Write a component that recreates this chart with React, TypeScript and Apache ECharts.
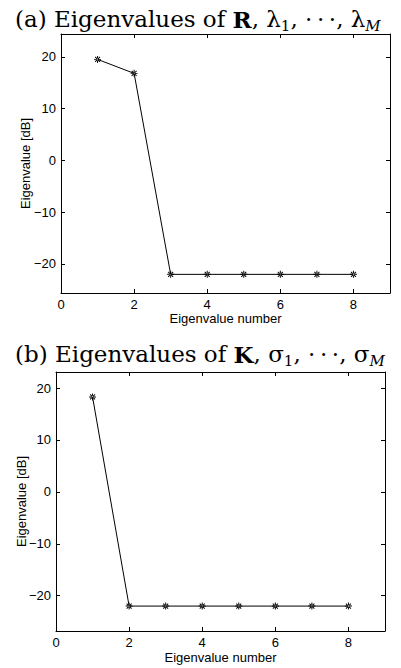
import React, { useEffect, useRef } from "react";
import * as echarts from "echarts";

const xTicks = [0, 2, 4, 6, 8];
const yTicks = [-20, -10, 0, 10, 20];
const eigenIndexR = [1, 2, 3, 4, 5, 6, 7, 8];
const eigenValuesR = [19.5, 16.8, -22, -22, -22, -22, -22, -22];
const eigenIndexK = [1, 2, 3, 4, 5, 6, 7, 8];
const eigenValuesK = [18.3, -22, -22, -22, -22, -22, -22, -22];
const xLabel = "Eigenvalue number";
const yLabel = "Eigenvalue [dB]";

const ASTERISK =
  "path://M-4 -0.55 L4 -0.55 L4 0.55 L-4 0.55 Z M-0.55 -4 L0.55 -4 L0.55 4 L-0.55 4 Z " +
  "M-3.2 -2.45 L2.45 3.2 L3.2 2.45 L-2.45 -3.2 Z M-2.45 3.2 L3.2 -2.45 L2.45 -3.2 L-3.2 2.45 Z";

const SANS = "Liberation Sans, Arial, Helvetica, sans-serif";
const SERIF = "DejaVu Serif, serif";

export default function App() {
  const ref = useRef<HTMLDivElement>(null);
  useEffect(() => {
    if (!ref.current) return;
    const chart = echarts.init(ref.current, undefined, { renderer: "svg" });
    const base = { fontFamily: SERIF, color: "#000", fontWeight: "normal" };
    const titleRich = {
      n: { ...base, fontSize: 23, lineHeight: 28 },
      b: { ...base, fontSize: 23, lineHeight: 28, fontWeight: "bold" },
      s: { ...base, fontSize: 15, lineHeight: 15, verticalAlign: "bottom" },
      si: { ...base, fontSize: 15, lineHeight: 15, verticalAlign: "bottom", fontStyle: "italic" },
    };
    const grids = [
      { left: 61, right: 11, top: 34, height: 259, min: -25.6, max: 24.4 },
      { left: 56, right: 16, top: 372, height: 259, min: -26.8, max: 23.1 },
    ];
    const xAxes: any[] = [];
    const yAxes: any[] = [];
    grids.forEach((g, gi) => {
      const common = {
        gridIndex: gi,
        type: "value",
        axisLine: { show: true, onZero: false, lineStyle: { color: "#000", width: 1 } },
        axisTick: { show: true, inside: true, length: 4, lineStyle: { color: "#000", width: 1 } },
        splitLine: { show: false },
      };
      xAxes.push({
        ...common,
        position: "bottom",
        min: 0,
        max: 9,
        axisTick: { ...common.axisTick, customValues: xTicks },
        axisLabel: { customValues: xTicks, color: "#000", fontFamily: SANS, fontSize: 13, margin: 5 },
        name: xLabel,
        nameLocation: "middle",
        nameGap: gi === 0 ? 19 : 20,
        nameMoveOverlap: false,
        nameTextStyle: { color: "#000", fontFamily: SANS, fontSize: 13 },
      });
      xAxes.push({
        ...common,
        position: "top",
        min: 0,
        max: 9,
        axisTick: { ...common.axisTick, customValues: xTicks },
        axisLabel: { show: false },
      });
      yAxes.push({
        ...common,
        position: "left",
        min: g.min,
        max: g.max,
        axisTick: { ...common.axisTick, customValues: yTicks },
        axisLabel: {
          customValues: yTicks,
          color: "#000",
          fontFamily: SANS,
          fontSize: 13,
          margin: 5,
          formatter: (v: number) => (v < 0 ? "\u2212" + Math.abs(v) : String(v)),
        },
        name: yLabel,
        nameLocation: "middle",
        nameGap: gi === 0 ? 29 : 28,
        nameMoveOverlap: false,
        nameTextStyle: { color: "#000", fontFamily: SANS, fontSize: 13 },
      });
      yAxes.push({
        ...common,
        position: "right",
        min: g.min,
        max: g.max,
        axisTick: { ...common.axisTick, customValues: yTicks },
        axisLabel: { show: false },
      });
    });
    const mkSeries = (xs: number[], ys: number[], gi: number) => ({
      type: "line",
      xAxisIndex: gi * 2,
      yAxisIndex: gi * 2,
      data: xs.map((x, i) => [x, ys[i]]),
      symbol: ASTERISK,
      symbolSize: 7,
      showAllSymbol: true,
      lineStyle: { color: "#000", width: 1 },
      itemStyle: { color: "#000" },
    });
    const dots = "\u00B7\u2009\u00B7\u2009\u00B7";
    chart.setOption({
      animation: false,
      backgroundColor: "#fff",
      title: [
        {
          left: 10,
          top: 0,
          text: `{n|(a) Eigenvalues of }{b|R}{n|, λ}{s|1}{n|, ${dots}, λ}{si|M}`,
          textStyle: { rich: titleRich, fontWeight: "normal" },
        },
        {
          left: 10,
          top: 335,
          text: `{n|(b) Eigenvalues of }{b|K}{n|, σ}{s|1}{n|, ${dots}, σ}{si|M}`,
          textStyle: { rich: titleRich, fontWeight: "normal" },
        },
      ],
      grid: grids.map((g) => ({ left: g.left, right: g.right, top: g.top, height: g.height })),
      xAxis: xAxes,
      yAxis: yAxes,
      series: [mkSeries(eigenIndexR, eigenValuesR, 0), mkSeries(eigenIndexK, eigenValuesK, 1)],
    });
    return () => chart.dispose();
  }, []);
  return (
    <div
      ref={ref}
      style={{ position: "fixed", left: 0, top: 0, width: 401, height: 668, background: "#fff" }}
    />
  );
}
